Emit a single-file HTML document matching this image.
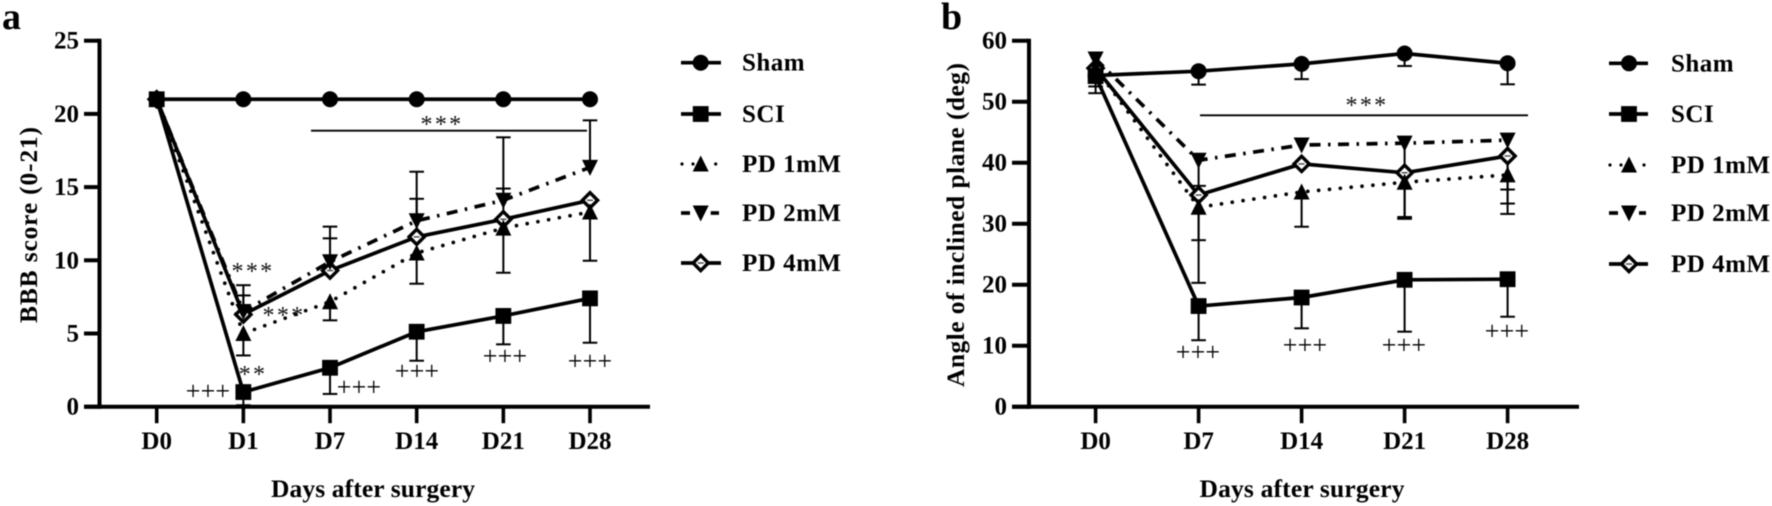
<!DOCTYPE html>
<html>
<head>
<meta charset="utf-8">
<style>
html,body{margin:0;padding:0;background:#fff;width:1772px;height:506px;overflow:hidden}
svg{display:block;position:absolute;left:0;top:0;filter:blur(0.5px)}
text{font-family:"Liberation Serif",serif;fill:#000}
.b{font-weight:bold;font-size:25px}
.t{font-weight:bold;font-size:25.5px}
.leg{font-weight:bold;font-size:25px;letter-spacing:0.5px}
.plus{font-size:26px;letter-spacing:0.2px;text-anchor:middle}
.star{font-size:24px;letter-spacing:2.3px;text-anchor:middle;fill:#111}
</style>
</head>
<body>
<svg id="fig" xmlns="http://www.w3.org/2000/svg" width="1772" height="506" viewBox="0 0 1772 506">
  <rect width="1772" height="506" fill="#fff"></rect>
  <text x="2" y="29" font-size="38" font-weight="bold">a</text>
  <text x="941" y="29" font-size="38" font-weight="bold">b</text>

  <text class="t" transform="translate(37,225) rotate(-90)" text-anchor="middle" textLength="196" lengthAdjust="spacing">BBB score (0-21)</text>
  <text class="t" transform="translate(964,225) rotate(-90)" text-anchor="middle" textLength="324" lengthAdjust="spacing">Angle of inclined plane (deg)</text>
  <text class="t" x="373" y="497" text-anchor="middle" textLength="204" lengthAdjust="spacing">Days after surgery</text>
  <text class="t" x="1302" y="497" text-anchor="middle" textLength="205" lengthAdjust="spacing">Days after surgery</text>

  <line x1="311" x2="587" y1="130.7" y2="130.7" stroke="#000" stroke-width="1.8"></line>
  <text class="star" x="442" y="132">***</text>
  <line x1="1200" x2="1528" y1="115.3" y2="115.3" stroke="#000" stroke-width="1.8"></line>
  <text class="star" x="1367" y="113">***</text>
  <text class="star" x="253" y="279">***</text>
  <text class="star" x="284" y="323">***</text>
  <text class="star" x="253" y="382">**</text>

  <text class="plus" x="208" y="399.5">+++</text>
  <text class="plus" x="359" y="395.5">+++</text>
  <text class="plus" x="417" y="379.5">+++</text>
  <text class="plus" x="505" y="364.5">+++</text>
  <text class="plus" x="590" y="369.5">+++</text>
  <text class="plus" x="1198" y="360.5">+++</text>
  <text class="plus" x="1305" y="353.5">+++</text>
  <text class="plus" x="1404" y="353.5">+++</text>
  <text class="plus" x="1507" y="339.5">+++</text>
</svg>
<script>
// Panel a data
const daysA = ['D0','D1','D7','D14','D21','D28'];
const yTicksA = [0,5,10,15,20,25];
const shamA = [21,21,21,21,21,21];
const sciA = [21,1,2.66,5.12,6.2,7.4];
const pd1A = [21,5,7.17,10.5,12.2,13.3];
const pd2A = [21,6.5,9.9,12.7,14.1,16.35];
const pd4A = [21,6.3,9.3,11.6,12.8,14.1];
const sciLowA = [null,0.1,0.87,3.14,4.26,4.37];
const pd1LowA = [null,3.5,5.9,8.4,9.15,9.97];
const pd2HighA = [null,8.3,12.3,16.05,18.4,19.56];
const pd4HighA = [null,7.6,11.5,14.2,14.9,null];

// Panel b data
const daysB = ['D0','D7','D14','D21','D28'];
const yTicksB = [0,10,20,30,40,50,60];
const shamB = [54.3,55,56.2,57.9,56.3];
const sciB = [54.2,16.5,17.9,20.8,20.9];
const pd1B = [55.5,32.7,35.2,36.8,38];
const pd2B = [57,40.4,42.9,43.2,43.7];
const pd4B = [55.5,34.7,39.8,38.35,41.1];
const shamLowB = [52.5,52.8,53.7,55.85,52.85];
const sciLowB = [51.4,10.9,12.85,12.3,14.75];
const pd1LowB = [null,20.3,29.5,30.8,31.6];
const pd2LowB = [null,27.3,null,30.9,33.3];
const pd4LowB = [null,null,null,31.1,35.6];
const pd4HighB = [null,36.2,null,null,null];

// Legend
const legendLabels = ['Sham','SCI','PD 1mM','PD 2mM','PD 4mM'];

const NS = 'http://www.w3.org/2000/svg';
const svg = document.getElementById('fig');
function mk(tag, attrs, name) {
  const el = document.createElementNS(NS, tag);
  for (const k in attrs) el.setAttribute(k, attrs[k]);
  
  
  svg.appendChild(el);
  return el;
}
function axes(p) {
  mk('line', {x1:p.x0,x2:p.x0,y1:p.yTop-2,y2:p.yBase+2,stroke:'#000','stroke-width':4}, p.id+'-y-axis');
  mk('line', {x1:p.tickL,x2:p.xEnd,y1:p.yBase,y2:p.yBase,stroke:'#000','stroke-width':4}, p.id+'-x-axis');
  p.yTicks.forEach(v => {
    const y = p.y(v);
    mk('line', {x1:p.tickL,x2:p.x0,y1:y,y2:y,stroke:'#000','stroke-width':4}, p.id+'-y-tick-'+v);
    const t = mk('text', {x:p.tickL-5,y:y+8,'text-anchor':'end',class:'b'}, p.id+'-y-tick-label-'+v);
    t.textContent = v;
  });
  p.days.forEach((d,i) => {
    const x = p.x(i);
    mk('line', {x1:x,x2:x,y1:p.yBase,y2:p.yBase+16.5,stroke:'#000','stroke-width':3.6}, p.id+'-x-tick-'+d);
    const t = mk('text', {x:x,y:449,'text-anchor':'middle',class:'b'}, p.id+'-x-tick-label-'+d);
    t.textContent = d;
  });
}
function marker(kind, x, y, name) {
  if (kind === 'circle') {
    mk('circle', {cx:x,cy:y,r:8,fill:'#000'}, name);
  } else if (kind === 'square') {
    mk('rect', {x:x-7.9,y:y-7.9,width:15.8,height:15.8,fill:'#000'}, name);
  } else if (kind === 'up') {
    mk('polygon', {points:[x-8,y+7.5,x+8,y+7.5,x,y-8.5].join(' '),fill:'#000'}, name);
  } else if (kind === 'down') {
    mk('polygon', {points:[x-8,y-7.5,x+8,y-7.5,x,y+8.5].join(' '),fill:'#000'}, name);
  } else {
    mk('polygon', {points:[x-7.6,y,x,y-7.6,x+7.6,y,x,y+7.6].join(' '),fill:'#fff',stroke:'#000','stroke-width':3.4}, name);
    mk('line', {x1:x-3,x2:x+3,y1:y,y2:y,stroke:'#444','stroke-width':1.4}, name+'-detail');
  }
}
function lineStyle(kind) {
  if (kind === 'dot') return {stroke:'#000','stroke-width':3.7,'stroke-linecap':'round','stroke-dasharray':'0 10.9',fill:'none'};
  if (kind === 'dashdot') return {stroke:'#000','stroke-width':3.7,'stroke-dasharray':'11 7.5 2.5 7.5',fill:'none'};
  return {stroke:'#000','stroke-width':3.7,fill:'none'};
}
function errors(p, id, vals, ends) {
  ends.forEach((e,i) => {
    if (e === null) return;
    const x = p.x(i), y0 = p.y(vals[i]), y1 = p.y(e);
    mk('line', {x1:x,x2:x,y1:y0,y2:y1,stroke:'#000','stroke-width':2}, p.id+'-'+id+'-error-'+p.days[i]);
    mk('line', {x1:x-7.3,x2:x+7.3,y1:y1,y2:y1,stroke:'#000','stroke-width':2}, p.id+'-'+id+'-error-cap-'+p.days[i]);
  });
}
function series(p, id, vals, dash, kind) {
  const d = vals.map((v,i) => (i?'L':'M')+p.x(i)+' '+p.y(v)).join(' ');
  const st = lineStyle(dash);
  st.d = d;
  mk('path', st, p.id+'-'+id+'-line');
  vals.forEach((v,i) => marker(kind, p.x(i), p.y(v), p.id+'-'+id+'-point-'+p.days[i]));
}
function legend(id, lx0, lx1, mx, tx, ys) {
  const kinds = ['circle','square','up','down','diamond'];
  legendLabels.forEach((lab,i) => {
    const y = ys[i];
    if (i === 2) {
      [lx0, lx0+11, mx+14].forEach((dx,j) => mk('circle', {cx:dx+1,cy:y,r:1.6,fill:'#000'}, id+'-legend-dot-'+j));
    } else if (i === 3) {
      mk('line', {x1:lx0,x2:lx0+9,y1:y,y2:y,stroke:'#000','stroke-width':3.7}, id+'-legend-dash-left');
      mk('line', {x1:mx+10,x2:lx1-2,y1:y,y2:y,stroke:'#000','stroke-width':3.7}, id+'-legend-dash-right');
    } else {
      mk('line', {x1:lx0,x2:lx1,y1:y,y2:y,stroke:'#000','stroke-width':3.7}, id+'-legend-line-'+i);
    }
    marker(kinds[i], mx, y, id+'-legend-marker-'+i);
    const t = mk('text', {x:tx,y:y+8,class:'leg'}, id+'-legend-label-'+i);
    t.textContent = lab;
  });
}

const panelA = {id:'a', days:daysA, yTicks:yTicksA, x0:99.5, tickL:84, xEnd:650, yBase:406.7, yTop:40.7,
  x:i => 156.7 + 86.66*i, y:v => 406.7 - 14.64*v};
const panelB = {id:'b', days:daysB, yTicks:yTicksB, x0:1029, tickL:1012, xEnd:1579, yBase:406.7, yTop:40.7,
  x:i => 1095.6 + 103*i, y:v => 406.7 - 6.1*v};

axes(panelA);
errors(panelA,'pd2',pd2A,pd2HighA);
errors(panelA,'pd4',pd4A,pd4HighA);
errors(panelA,'pd1',pd1A,pd1LowA);
errors(panelA,'sci',sciA,sciLowA);
series(panelA,'sham',shamA,'solid','circle');
series(panelA,'pd4',pd4A,'solid','diamond');
series(panelA,'pd1',pd1A,'dot','up');
series(panelA,'pd2',pd2A,'dashdot','down');
series(panelA,'sci',sciA,'solid','square');

axes(panelB);
errors(panelB,'sham',shamB,shamLowB);
errors(panelB,'sci',sciB,sciLowB);
errors(panelB,'pd1',pd1B,pd1LowB);
errors(panelB,'pd2',pd2B,pd2LowB);
errors(panelB,'pd4',pd4B,pd4LowB);
errors(panelB,'pd4-upper',pd4B,pd4HighB);
series(panelB,'pd4',pd4B,'solid','diamond');
series(panelB,'sham',shamB,'solid','circle');
series(panelB,'sci',sciB,'solid','square');
series(panelB,'pd1',pd1B,'dot','up');
series(panelB,'pd2',pd2B,'dashdot','down');

legend('a',681,721,700.7,742,[62.7,114,164,213,263]);
legend('b',1609,1648,1629,1671,[63.3,114,165,213,264]);
</script>
</body>
</html>
